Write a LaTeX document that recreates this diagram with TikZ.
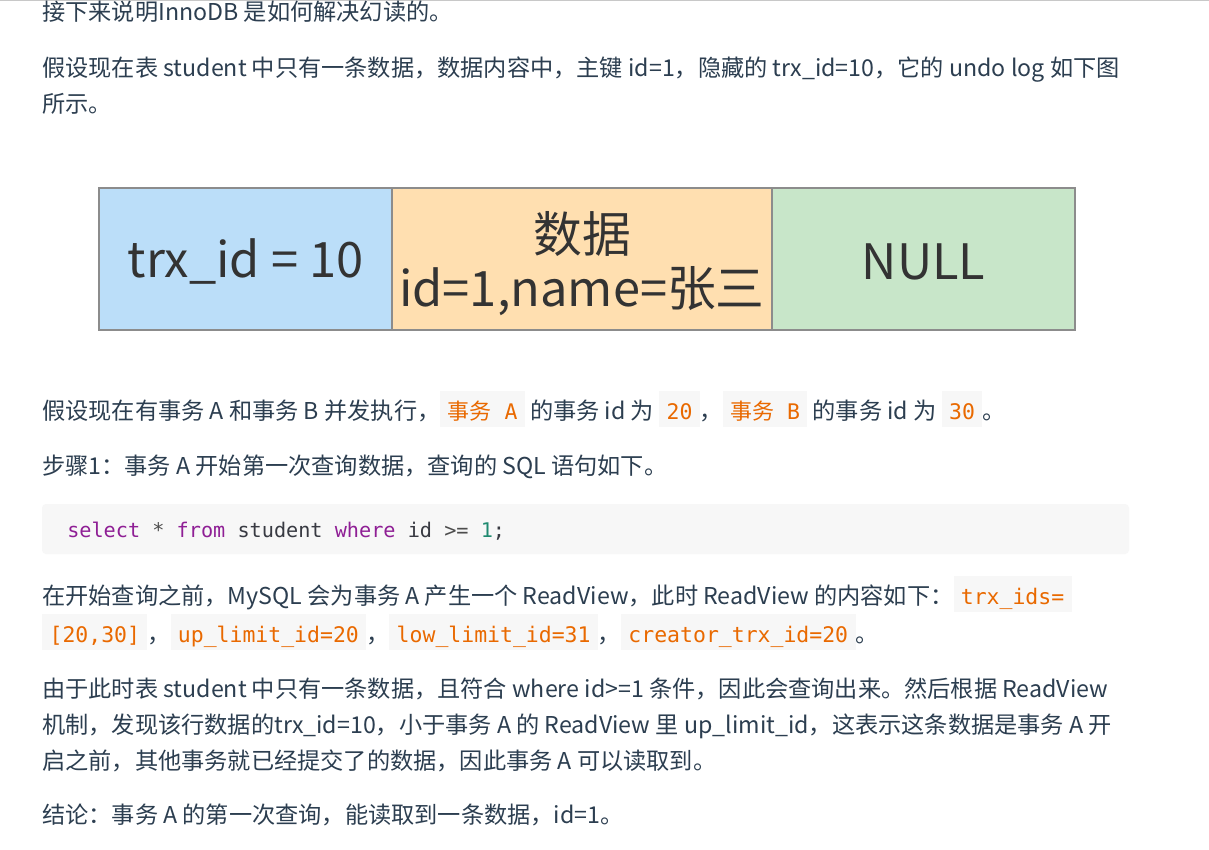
\documentclass[tikz,border=0pt]{standalone}
\usepackage{fontspec}
\setmainfont{Noto Sans CJK SC}
\newfontfamily\cjkf{Noto Sans CJK SC}
\newfontfamily\monof{DejaVu Sans Mono}
\definecolor{txt}{HTML}{2C3E50}
\definecolor{codebg}{HTML}{F7F7F7}
\definecolor{codeor}{HTML}{E96900}
\definecolor{kwc}{HTML}{8F1F95}
\definecolor{opc}{HTML}{4D4D4D}
\definecolor{plainc}{HTML}{383A42}
\definecolor{numc}{HTML}{1F8A70}
\definecolor{cellblue}{HTML}{BBDEF9}
\definecolor{cellorange}{HTML}{FFDFB0}
\definecolor{cellgreen}{HTML}{C8E6C9}
\definecolor{cellline}{HTML}{8C8C8C}
\definecolor{celltext}{HTML}{333333}
\definecolor{topline}{HTML}{C8C8C8}
\newcommand\ic[1]{{\fboxsep=0pt\colorbox{codebg}{\rule[-6pt]{0pt}{27pt}\hspace{5.5pt}{\monof\fontsize{16.1pt}{20pt}\selectfont\color{codeor}#1}\hspace{5.5pt}}}}
\newcommand\icj[1]{{\cjkf\fontsize{16.5pt}{20pt}\selectfont #1}}
\tikzset{
  body/.style={anchor=base west, inner sep=0pt, text=txt, font=\fontsize{17.4pt}{20pt}\selectfont},
  codetext/.style={anchor=base west, inner sep=0pt, text=plainc, font=\monof\fontsize{15.15pt}{20pt}\selectfont},
  cell/.style={draw=cellline, line width=1.5pt, anchor=north west, inner sep=0pt, minimum height=142*0.75pt},
  celltxt/.style={text=celltext, font=\fontsize{36.6pt}{41pt}\selectfont, align=center, inner sep=0pt}
}
\begin{document}
\begin{tikzpicture}[x=0.75pt,y=-0.75pt]
\path[use as bounding box, fill=white] (0,0) rectangle (1209,849);
\draw[topline, line width=0.75pt] (0,1) -- (1209,1);

\node[body] (l1) at (42,21) {接下来说明InnoDB 是如何解决幻读的。};
\node[body] (l2) at (42,77) {假设现在表 student 中只有一条数据，数据内容中，主键 id=1，隐藏的 trx\_id=10，它的 undo log 如下图};
\node[body] (l3) at (42,112) {所示。};

\node[cell, fill=cellblue, minimum width=293*0.75pt] (c1) at (98,187) {};
\node[cell, fill=cellorange, minimum width=380*0.75pt] (c2) at (391,187) {};
\node[cell, fill=cellgreen, minimum width=303*0.75pt] (c3) at (771,187) {};
\node[celltxt] (t1) at ([yshift=-2pt]c1.center) {trx\_id = 10};
\node[celltxt] (t2) at ([yshift=-3.5pt]c2.center) {数据\\id=1,name=张三};
\node[celltxt] (t3) at ([yshift=-2pt]c3.center) {NULL};

\node[body] (l4) at (42,419) {假设现在有事务 A 和事务 B 并发执行，\ic{\icj{事务} A} 的事务 id 为 \ic{20}，\ic{\icj{事务} B} 的事务 id 为 \ic{30}。};
\node[body] (l5) at (42,474) {步骤1：事务 A 开始第一次查询数据，查询的 SQL 语句如下。};

\path[fill=codebg, rounded corners=3pt] (42,504) rectangle (1129,554);
\node[codetext] (code) at (67,537) {\textcolor{kwc}{select} \textcolor{opc}{*} \textcolor{kwc}{from} student \textcolor{kwc}{where} id \textcolor{opc}{>=} \textcolor{numc}{1};};

\node[body] (l6) at (42,604) {在开始查询之前，MySQL 会为事务 A 产生一个 ReadView，此时 ReadView 的内容如下：\ic{trx\_ids=}};
\node[body] (l7) at (42,642) {\ic{[20,30]}，\ic{up\_limit\_id=20}，\ic{low\_limit\_id=31}，\ic{creator\_trx\_id=20}。};

\node[body] (l8) at (42,697) {由于此时表 student 中只有一条数据，且符合 where id>=1 条件，因此会查询出来。然后根据 ReadView};
\node[body] (l9) at (42,733) {机制，发现该行数据的trx\_id=10，小于事务 A 的 ReadView 里 up\_limit\_id，这表示这条数据是事务 A 开};
\node[body] (l10) at (42,769) {启之前，其他事务就已经提交了的数据，因此事务 A 可以读取到。};
\node[body] (l11) at (42,823) {结论：事务 A 的第一次查询，能读取到一条数据，id=1。};
\end{tikzpicture}
\end{document}
